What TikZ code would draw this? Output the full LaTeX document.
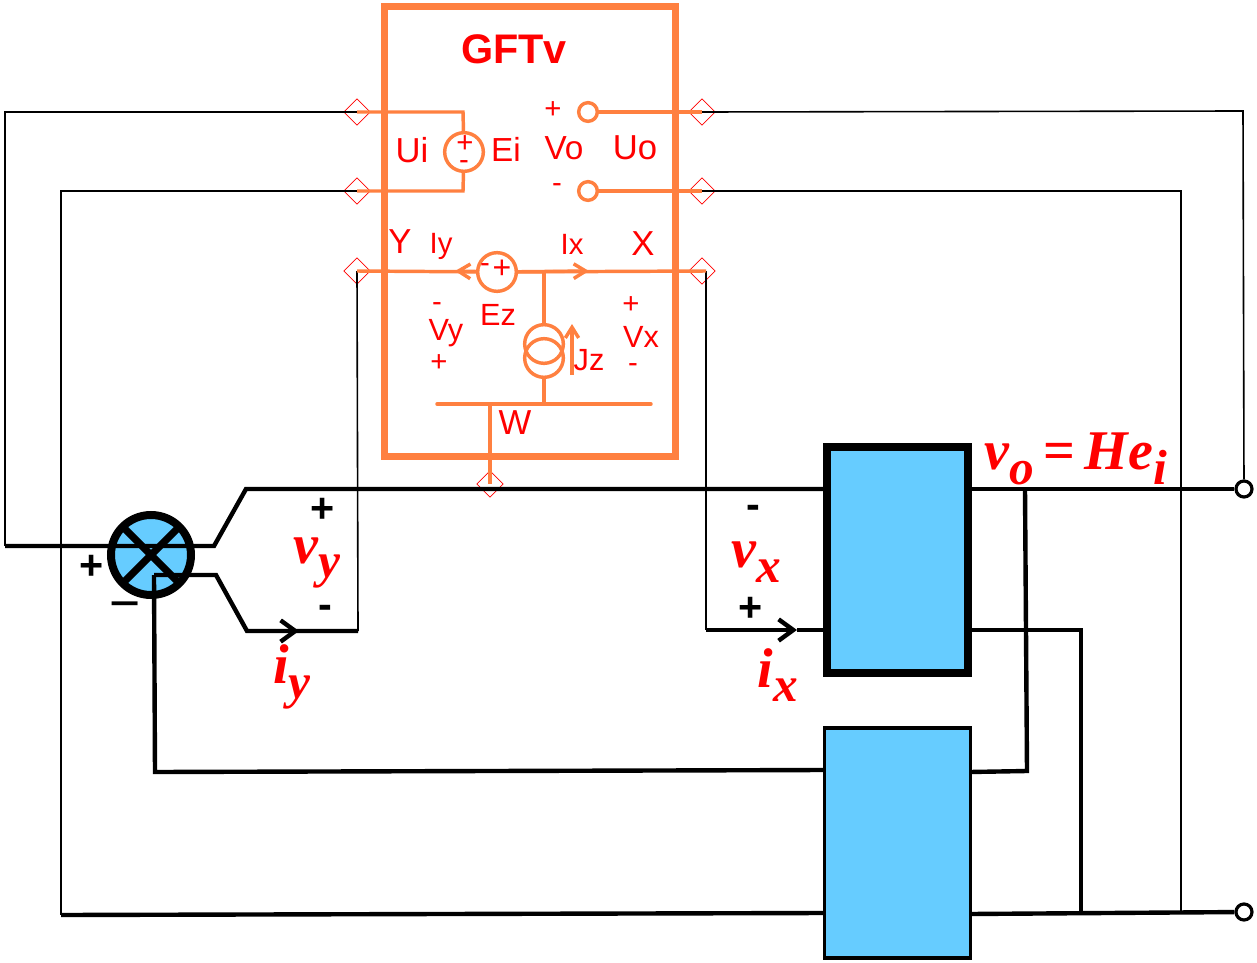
\documentclass[tikz,border=0pt]{standalone}
\usepackage{xcolor}
\usepackage{fontspec}
\setmainfont{Liberation Sans}
\newfontfamily\varfont[BoldItalicFont={Liberation Serif Bold Italic}]{Liberation Serif}
\usetikzlibrary{shapes.geometric}
\usetikzlibrary{arrows.meta}
\definecolor{gftorange}{HTML}{FF8040}
\definecolor{boxblue}{HTML}{66CCFF}
\newcommand{\varlabel}[2]{{\varfont\bfseries\itshape\fontsize{42}{42}\selectfont #1\raisebox{-11pt}{\fontsize{37}{37}\selectfont #2}}}
\tikzset{
	port/.style={draw=red,diamond,line width=0.5pt,minimum size=20pt,inner sep=0pt},
	thinwire/.style={draw=black,line width=1.2pt},
	thickwire/.style={draw=black,line width=3.3pt},
	owire/.style={draw=gftorange,line width=2.6pt},
	oterm/.style={circle,draw=gftorange,fill=white,line width=2.6pt,minimum size=14pt,inner sep=0pt},
	osrc/.style={circle,draw=gftorange,line width=2.6pt,minimum size=29pt,inner sep=0pt},
	term/.style={circle,draw=black,fill=white,line width=2.4pt,minimum size=12pt,inner sep=0pt},
	lab/.style={text=red,inner sep=0pt,font=\fontsize{25}{25}\selectfont},
	smalllab/.style={text=red,inner sep=0pt,font=\fontsize{22}{22}\selectfont},
	sign/.style={text=black,inner sep=0pt,font=\bfseries\fontsize{31}{31}\selectfont}
}
\begin{document}
\begin{tikzpicture}[x=0.75pt,y=-0.75pt]
	\useasboundingbox (0,0) rectangle (1257,963);

	% GFTv box
	\node[draw=gftorange,line width=5.2pt,minimum width=218pt,minimum height=337.5pt,inner sep=0pt] (gft) at (530,231.5) {};
	\node[text=red,inner sep=0pt,font=\bfseries\fontsize{31}{31}\selectfont] (gftname) at (514,49) {GFTv};

	% blue boxes and the summing point
	\node[draw=black,fill=boxblue,line width=6pt,minimum width=106pt,minimum height=170pt,inner sep=0pt] (amp) at (897.5,560) {};
	\node[draw=black,fill=boxblue,line width=2.4pt,minimum width=109pt,minimum height=172.5pt,inner sep=0pt] (fb) at (897.5,843) {};
	\node[circle,draw=black,fill=boxblue,line width=6pt,minimum size=60pt,inner sep=0pt] (sum) at (151,555) {};

	% ports
	\node[port] (pUiT) at (357,112) {};
	\node[port] (pUiB) at (357,191) {};
	\node[port] (pY) at (357,271) {};
	\node[port] (pUoT) at (702,112) {};
	\node[port] (pUoB) at (702,191) {};
	\node[port] (pX) at (702,271) {};
	\node[port] (pW) at (490,484) {};

	% sources and terminals
	\node[osrc] (Ei) at (464,152) {};
	\node[osrc] (Ez) at (497,272) {};
	\node[osrc] (Jz1) at (544,344) {};
	\node[osrc] (Jz2) at (544,358) {};
	\node[oterm] (VoT) at (588,112) {};
	\node[oterm] (VoB) at (588,191) {};
	\node[term] (outT) at (1244,489) {};
	\node[term] (outB) at (1244,912) {};

	% junctions
	\coordinate (EiT) at (463,112);
	\coordinate (EiB) at (463,191);
	\coordinate (JzT) at (544,271);
	\coordinate (JzB) at (544,404);
	\coordinate (WL) at (437,404);
	\coordinate (WR) at (651,404);
	\coordinate (WS) at (490,404);
	\coordinate (tipIy) at (455,271);
	\coordinate (tipIx) at (589,271);
	\coordinate (JaB) at (572,375);
	\coordinate (JaT) at (572,324);
	\coordinate (lt1) at (5,112);
	\coordinate (lt2) at (5,546);
	\coordinate (lb1) at (61,191);
	\coordinate (lb2) at (61,915);
	\coordinate (rt1) at (1243,111);
	\coordinate (rb1) at (1181,191);
	\coordinate (rb2) at (1181,912);
	\coordinate (yB) at (358,631);
	\coordinate (xT) at (706,271);
	\coordinate (xB) at (706,630);
	\coordinate (s1) at (214,546);
	\coordinate (s2) at (246,489);
	\coordinate (s3) at (216,575);
	\coordinate (s4) at (247,631);
	\coordinate (s5) at (154,575);
	\coordinate (tipiy) at (299,631);
	\coordinate (tipix) at (797,630);
	\coordinate (ampT) at (827,489);
	\coordinate (ampTr) at (968,489);
	\coordinate (ampBr) at (968,630);
	\coordinate (ampB) at (827,630);
	\coordinate (m1) at (1025,489);
	\coordinate (m2) at (1027,771);
	\coordinate (m3) at (970,772);
	\coordinate (n1) at (1081,630);
	\coordinate (n2) at (1081,912);
	\coordinate (f1) at (155,772);
	\coordinate (f2) at (825,770);
	\coordinate (f3) at (825,913);
	\coordinate (f4) at (970,914);
	\coordinate (cr1) at (125,529);
	\coordinate (cr2) at (177,581);
	\coordinate (cr3) at (177,529);
	\coordinate (cr4) at (125,581);

	% thin black wires
	\draw[thinwire] (pUiT.center) -- (lt1) -- (lt2);
	\draw[thinwire] (pUiB.center) -- (lb1) -- (lb2);
	\draw[thinwire] (pY.center) -- (yB);
	\draw[thinwire] (xT) -- (xB);
	\draw[thinwire] (pUoT.center) -- (rt1) -- (outT);
	\draw[thinwire] (pUoB.center) -- (rb1) -- (rb2);

	% orange wires
	\draw[owire] (pUiT.center) -- (EiT) -- (Ei);
	\draw[owire] (pUiB.center) -- (EiB) -- (Ei);
	\draw[owire] (VoT) -- (pUoT.center);
	\draw[owire] (VoB) -- (pUoB.center);
	\draw[owire] (pY.center) -- (Ez);
	\draw[owire] (Ez) -- (xT);
	\draw[owire,-{Straight Barb[length=9pt,width=11pt]}] (Ez) -- (tipIy);
	\draw[owire,-{Straight Barb[length=9pt,width=11pt]}] (Ez) -- (tipIx);
	\draw[owire] (JzT) -- (Jz1);
	\draw[owire] (Jz2) -- (JzB);
	\draw[owire,line cap=round] (WL) -- (WR);
	\draw[owire] (WS) -- (pW.center);
	\draw[owire,-{Straight Barb[length=8pt,width=10pt]}] (JaB) -- (JaT);

	% thick black wires
	\draw[thickwire] (lt2) -- (s1) -- (s2) -- (ampT);
	\draw[thickwire] (s5) -- (s3) -- (s4) -- (yB);
	\draw[thickwire,-{Straight Barb[length=11pt,width=16pt]}] (s4) -- (tipiy);
	\draw[thickwire,-{Straight Barb[length=11pt,width=16pt]}] (xB) -- (tipix);
	\draw[thickwire] (tipix) -- (ampB);
	\draw[thickwire] (ampTr) -- (outT);
	\draw[thickwire] (ampBr) -- (n1) -- (n2);
	\draw[thickwire] (m1) -- (m2) -- (m3);
	\draw[thickwire] (s5) -- (f1) -- (f2);
	\draw[thickwire] (lb2) -- (f3);
	\draw[thickwire] (f4) -- (outB);
	\draw[thickwire,line width=5.5pt] (cr1) -- (cr2);
	\draw[thickwire,line width=5.5pt] (cr3) -- (cr4);

	% texts in the GFTv box
	\node[lab,font=\fontsize{26}{26}\selectfont] (tUi) at (412,150) {Ui};
	\node[lab] (tEi) at (506,149) {Ei};
	\node[lab] (tVo) at (564,148) {Vo};
	\node[lab,font=\fontsize{26}{26}\selectfont] (tUo) at (635,148) {Uo};
	\node[smalllab] (tVop) at (553,110) {+};
	\node[smalllab] (tVom) at (557,188) {-};
	\node[smalllab] (tEip) at (465,144) {+};
	\node[smalllab] (tEim) at (464,165) {-};
	\node[lab,font=\fontsize{26}{26}\selectfont] (tY) at (400,242) {Y};
	\node[lab,font=\fontsize{26}{26}\selectfont] (tX) at (643,244) {X};
	\node[smalllab] (tIy) at (441,246) {Iy};
	\node[smalllab] (tIx) at (572,244) {Ix};
	\node[smalllab] (tEzm) at (485,268) {-};
	\node[smalllab,font=\fontsize{24}{24}\selectfont] (tEzp) at (502,269) {+};
	\node[lab,font=\fontsize{23}{23}\selectfont] (tEz) at (498,315) {Ez};
	\node[lab,font=\fontsize{23}{23}\selectfont] (tVy) at (446,333) {Vy};
	\node[smalllab] (tVym) at (437,307) {-};
	\node[smalllab] (tVyp) at (439,363) {+};
	\node[lab,font=\fontsize{23}{23}\selectfont] (tVx) at (641,337) {Vx};
	\node[smalllab] (tVxp) at (631,305) {+};
	\node[smalllab] (tVxm) at (633,368) {-};
	\node[lab,font=\fontsize{23}{23}\selectfont] (tJz) at (589,360) {Jz};
	\node[lab,font=\fontsize{26}{26}\selectfont] (tW) at (515,423) {W};

	% signs and variables
	\node[sign] (sp) at (92,567) {+};
	\node[sign,font=\fontsize{40}{40}\selectfont] (sm) at (125,612) {\textminus};
	\node[sign] (vyp) at (323,510) {+};
	\node[sign] (vym) at (325,612) {-};
	\node[sign] (vxm) at (753,512) {-};
	\node[sign] (vxp) at (751,609) {+};
	\node[text=red,inner sep=0pt] (tvy) at (317,563) {\varlabel{v}{y}};
	\node[text=red,inner sep=0pt] (tiy) at (292,677) {\varlabel{i}{y}};
	\node[text=red,inner sep=0pt] (tvx) at (756,562) {\varlabel{v}{x}};
	\node[text=red,inner sep=0pt] (tix) at (778,675) {\varlabel{i}{x}};
	\node[text=red,inner sep=0pt] (tvo) at (1076,459) {\varlabel{v}{o}{\varfont\bfseries\fontsize{42}{42}\selectfont\,=\,}\varlabel{He}{i}};
\end{tikzpicture}
\end{document}
